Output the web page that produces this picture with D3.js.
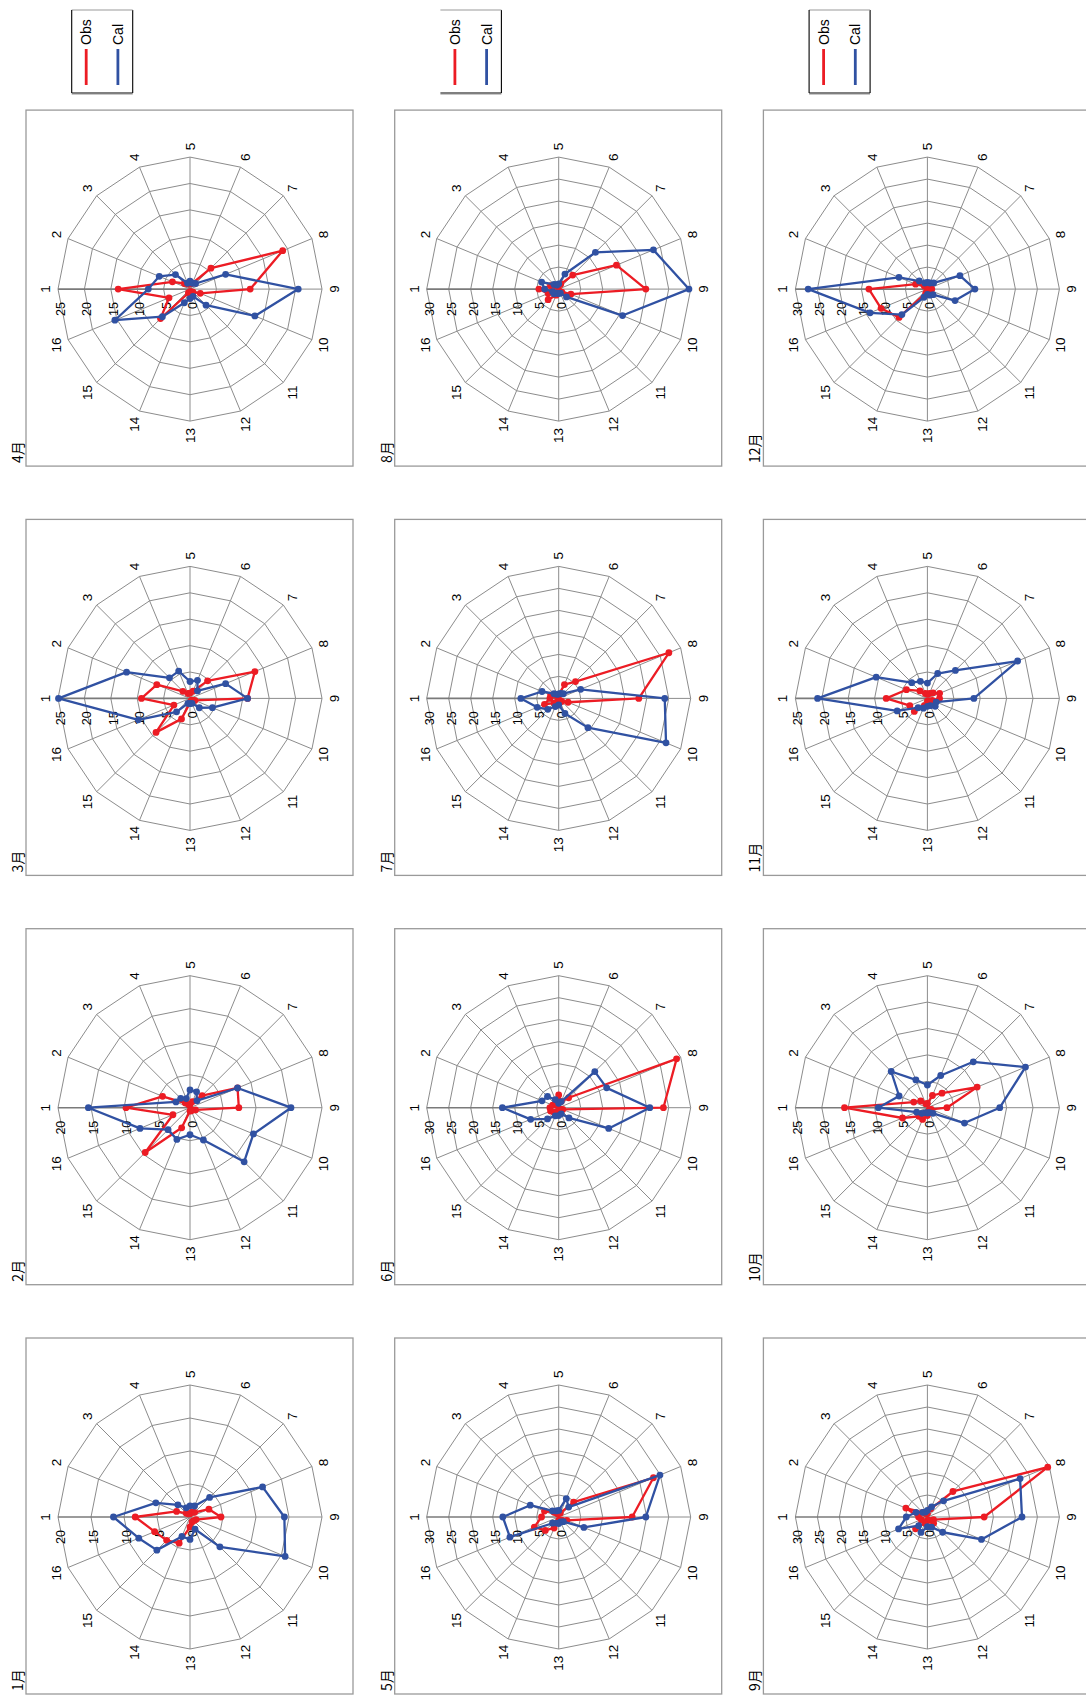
<!DOCTYPE html>
<html>
<head>
<meta charset="utf-8">
<script src="https://cdn.jsdelivr.net/npm/d3@7"></script>
<style>
  body { margin: 0; background: #fff; }
  svg { display: block; }
</style>
</head>
<body>
<svg id="chart" width="1086" height="1697"></svg>
<script>
// Wind-direction sectors 1..16, monthly radar charts of observed vs calculated values
const categories = ["1","2","3","4","5","6","7","8","9","10","11","12","13","14","15","16"];
const months = ["1月","2月","3月","4月","5月","6月","7月","8月","9月","10月","11月","12月"];
const radialMax = [20, 20, 25, 25, 30, 30, 30, 30, 30, 25, 25, 30];
const tickStep = 5;
const seriesNames = ["Obs", "Cal"];

const obs01 = [8.3, 2.2, 0.8, 0.5, 0.5, 0.8, 1.0, 3.1, 4.7, 1.0, 0.8, 0.8, 1.5, 4.3, 5.0, 5.8];
const cal01 = [11.6, 5.6, 2.6, 1.5, 1.7, 1.8, 4.2, 11.9, 14.3, 15.6, 6.4, 2.0, 3.4, 3.2, 7.1, 8.4];
const obs02 = [9.7, 4.5, 1.0, 0.5, 0.5, 1.0, 2.6, 7.8, 7.4, 0.9, 0.5, 0.5, 0.5, 3.3, 9.6, 2.8];
const cal02 = [15.4, 2.3, 2.0, 1.5, 2.7, 2.6, 1.5, 7.8, 15.3, 10.4, 11.6, 5.3, 4.1, 5.2, 4.7, 8.2];
const obs03 = [9.2, 6.8, 1.9, 1.0, 1.0, 1.5, 4.7, 13.3, 10.9, 1.0, 0.5, 0.5, 0.8, 4.2, 9.1, 3.3];
const cal03 = [24.9, 13.0, 5.5, 5.6, 3.2, 3.7, 2.0, 7.3, 10.9, 4.6, 2.5, 1.0, 1.0, 1.0, 3.6, 10.6];
const obs04 = [13.6, 3.6, 1.5, 1.0, 1.0, 1.2, 5.6, 19.0, 11.4, 2.1, 0.8, 0.5, 0.5, 0.8, 7.9, 4.3];
const cal04 = [7.9, 6.3, 3.9, 1.2, 1.5, 1.2, 1.5, 7.3, 20.5, 13.3, 4.3, 1.5, 1.8, 2.8, 7.4, 15.4];
const obs05 = [3.9, 3.5, 1.5, 0.8, 0.8, 1.0, 4.8, 23.3, 16.7, 2.0, 1.0, 0.8, 0.8, 2.7, 4.3, 6.0];
const cal05 = [12.7, 7.0, 2.0, 1.5, 1.5, 4.5, 3.2, 24.9, 19.8, 6.2, 1.5, 1.2, 1.5, 1.5, 2.0, 12.0];
const obs06 = [2.0, 1.5, 1.0, 1.0, 2.9, 1.5, 3.2, 29.0, 23.8, 1.0, 0.5, 0.5, 0.5, 1.0, 1.5, 2.0];
const cal06 = [12.8, 4.1, 3.6, 2.0, 1.0, 1.5, 11.6, 11.8, 20.7, 12.3, 3.3, 1.5, 1.8, 2.0, 3.6, 6.9];
const obs07 = [2.0, 2.0, 1.0, 0.8, 0.8, 3.4, 5.4, 27.1, 18.2, 2.3, 1.0, 0.5, 0.5, 0.8, 1.5, 3.5];
const cal07 = [8.6, 4.1, 1.5, 1.0, 1.0, 1.2, 1.5, 5.4, 24.1, 26.4, 9.4, 3.7, 1.5, 2.0, 3.5, 5.3];
const obs08 = [4.5, 2.0, 1.0, 0.8, 0.8, 1.2, 4.5, 14.2, 19.8, 3.0, 1.0, 0.5, 0.5, 1.5, 3.4, 2.6];
const cal08 = [3.2, 4.2, 1.5, 1.0, 1.2, 3.7, 11.8, 23.3, 29.6, 15.7, 2.5, 1.0, 1.0, 1.0, 1.5, 1.5];
const obs09 = [2.0, 5.3, 1.5, 0.8, 0.8, 2.0, 8.2, 29.6, 12.9, 1.5, 2.0, 0.8, 0.8, 1.5, 3.8, 1.5];
const cal09 = [4.8, 2.8, 1.5, 1.2, 1.5, 2.5, 5.2, 22.8, 21.5, 13.3, 4.9, 2.5, 2.2, 3.8, 2.8, 7.1];
const obs10 = [15.7, 2.8, 1.8, 0.8, 0.8, 2.5, 3.9, 10.2, 3.7, 0.8, 0.5, 0.8, 1.5, 2.4, 2.3, 5.1];
const cal10 = [9.3, 5.8, 9.7, 5.7, 4.3, 6.6, 12.3, 20.1, 13.7, 7.6, 1.5, 1.0, 1.0, 1.0, 1.5, 2.2];
const obs11 = [7.8, 4.3, 2.0, 1.0, 0.8, 1.0, 1.5, 2.5, 2.3, 1.0, 0.8, 0.5, 0.5, 1.5, 3.5, 3.6];
const cal11 = [20.8, 10.5, 4.2, 3.5, 2.9, 5.1, 7.5, 18.5, 8.8, 1.8, 2.1, 1.5, 1.5, 2.0, 2.5, 6.2];
const obs12 = [13.3, 2.9, 1.0, 0.5, 0.5, 0.5, 0.5, 0.8, 1.0, 0.8, 0.5, 0.3, 0.5, 1.0, 9.1, 11.4];
const cal12 = [27.1, 7.0, 2.6, 1.5, 1.5, 1.5, 2.0, 8.0, 10.8, 6.8, 1.8, 1.5, 1.2, 2.0, 8.2, 14.1];

const obsList = [obs01, obs02, obs03, obs04, obs05, obs06, obs07, obs08, obs09, obs10, obs11, obs12];
const calList = [cal01, cal02, cal03, cal04, cal05, cal06, cal07, cal08, cal09, cal10, cal11, cal12];

// ---- layout (page is drawn landscape and turned a quarter turn) ----
const PAGE_W = 1697, PAGE_H = 1086;
const PANEL_W = 356, PANEL_H = 327;
const COL_X0 = 3, COL_STEP = 409.3;
const ROW_Y0 = 26, ROW_STEP = 368.7;
const R = 132;
const RED = "#ec1c24", BLUE = "#3051a2", GRID = "#8c8c8c";
const FONT = "'Liberation Sans', Arial, sans-serif";

const svg = d3.select("#chart");
const page = svg.append("g")
  .attr("transform", `translate(0,${PAGE_W}) rotate(-90)`);

const angle = d3.scaleLinear().domain([0, categories.length]).range([0, 2 * Math.PI]);
const pt = (i, r) => [Math.sin(angle(i)) * r, -Math.cos(angle(i)) * r];

months.forEach((m, k) => {
  const row = Math.floor(k / 4), col = k % 4;
  const x0 = COL_X0 + col * COL_STEP;
  const y0 = ROW_Y0 + row * ROW_STEP;
  const cx = x0 + PANEL_W / 2 - 1, cy = y0 + PANEL_H / 2 + 0.5;

  // panel frame
  page.append("rect")
    .attr("x", x0).attr("y", y0).attr("width", PANEL_W).attr("height", PANEL_H)
    .attr("fill", "#fff").attr("stroke", "#9a9a9a").attr("stroke-width", 1.3);

  // month title
  page.append("text")
    .attr("x", x0 + 3).attr("y", y0 - 3)
    .attr("font-family", "'Noto Sans CJK SC', sans-serif")
    .attr("font-size", 14).attr("fill", "#000")
    .text(m);

  const g = page.append("g").attr("transform", `translate(${cx},${cy})`);
  const max = radialMax[k];
  const r = d3.scaleLinear().domain([0, max]).range([0, R]);
  const ticks = d3.range(0, max + 0.001, tickStep);

  // polygon gridlines
  const ring = d3.lineRadial()
    .angle((d, i) => angle(i))
    .curve(d3.curveLinearClosed);
  ticks.slice(1).forEach(t => {
    g.append("path")
      .attr("d", ring.radius(r(t))(categories))
      .attr("fill", "none").attr("stroke", GRID).attr("stroke-width", 1);
  });

  // spokes
  categories.forEach((c, i) => {
    const [ex, ey] = pt(i, r(max));
    g.append("line")
      .attr("x1", 0).attr("y1", 0).attr("x2", ex).attr("y2", ey)
      .attr("stroke", i === 0 ? "#7a7a7a" : GRID)
      .attr("stroke-width", i === 0 ? 1.6 : 1);
  });

  // radial value labels along the first spoke
  g.selectAll("text.tick").data(ticks).join("text")
    .attr("class", "tick")
    .attr("x", -13).attr("y", d => -r(d) + 3)
    .attr("text-anchor", "end").attr("dominant-baseline", "central")
    .attr("font-family", FONT).attr("font-size", 12.5).attr("fill", "#000")
    .text(d => d);

  // category labels around the rim
  categories.forEach((c, i) => {
    const a = angle(i);
    const dx = Math.sin(a), dy = -Math.cos(a);
    const w = c.length * 7.3, h = 11;
    const [px, py] = pt(i, R + 7);
    g.append("text")
      .attr("x", px + dx * w / 2).attr("y", py + dy * h / 2)
      .attr("text-anchor", "middle").attr("dominant-baseline", "central")
      .attr("font-family", FONT).attr("font-size", 13.5).attr("fill", "#000")
      .text(c);
  });

  // data series: observed first, calculated on top
  const line = d3.lineRadial()
    .angle((d, i) => angle(i))
    .radius(d => r(d))
    .curve(d3.curveLinearClosed);
  [[obsList[k], RED], [calList[k], BLUE]].forEach(([vals, color]) => {
    g.append("path")
      .attr("d", line(vals))
      .attr("fill", "none").attr("stroke", color)
      .attr("stroke-width", 2.3).attr("stroke-linejoin", "round");
    g.selectAll(null).data(vals).join("circle")
      .attr("cx", (d, i) => pt(i, r(d))[0])
      .attr("cy", (d, i) => pt(i, r(d))[1])
      .attr("r", 3.4).attr("fill", color);
  });
});

// legends at the right end of each row
for (let row = 0; row < 3; row++) {
  const lx = 1604, ly = ROW_Y0 + row * ROW_STEP + 45.7, lw = 83, lh = 61;
  const lg = page.append("g");
  lg.append("rect").attr("x", lx).attr("y", ly).attr("width", lw).attr("height", lh)
    .attr("fill", "#fff").attr("stroke", "none");
  lg.append("line").attr("x1", lx - 1.5).attr("y1", ly).attr("x2", lx - 1.5).attr("y2", ly + lh)
    .attr("stroke", "#c8c8c8").attr("stroke-width", 1.2);
  lg.append("line").attr("x1", lx).attr("y1", ly).attr("x2", lx).attr("y2", ly + lh)
    .attr("stroke", "#000").attr("stroke-width", 1.1);
  lg.append("line").attr("x1", lx).attr("y1", ly + lh).attr("x2", lx + lw).attr("y2", ly + lh)
    .attr("stroke", "#000").attr("stroke-width", 1.1);
  lg.append("line").attr("x1", lx + lw).attr("y1", ly).attr("x2", lx + lw).attr("y2", ly + lh)
    .attr("stroke", "#9a9a9a").attr("stroke-width", 1.1);
  if (row !== 1) {
    lg.append("line").attr("x1", lx).attr("y1", ly).attr("x2", lx + lw).attr("y2", ly)
      .attr("stroke", "#000").attr("stroke-width", 1.1);
  }
  const entryY = [ly + 14.5, ly + 46.2];
  seriesNames.forEach((name, i) => {
    const color = i === 0 ? RED : BLUE;
    lg.append("line")
      .attr("x1", lx + 8).attr("x2", lx + 44).attr("y1", entryY[i]).attr("y2", entryY[i])
      .attr("stroke", color).attr("stroke-width", 2.8);
    lg.append("text")
      .attr("x", lx + 48).attr("y", entryY[i])
      .attr("dominant-baseline", "central")
      .attr("font-family", FONT).attr("font-size", 14).attr("fill", "#000")
      .text(name);
  });
}
</script>
</body>
</html>
